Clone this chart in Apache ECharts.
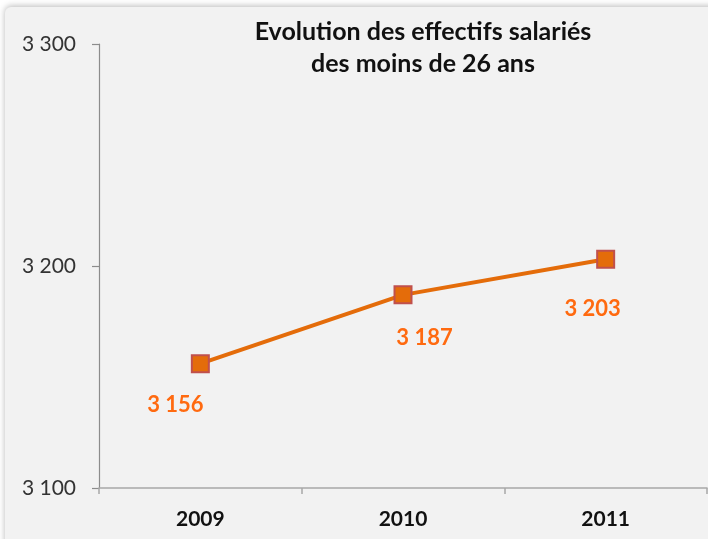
<!DOCTYPE html>
<html>
<head>
<meta charset="utf-8">
<style>
html,body{margin:0;padding:0;background:#ffffff;}
#chart{width:708px;height:539px;}
</style>
<script src="https://cdn.jsdelivr.net/npm/echarts@6/dist/echarts.min.js"></script>
</head>
<body>
<div id="chart"></div>
<script>
var titleText = 'Evolution des effectifs salariés\ndes moins de 26 ans';
var categories = ['2009', '2010', '2011'];
var values = [3156, 3187, 3203];
var yMin = 3100, yMax = 3300, yStep = 100;

var labelOffsets = [[-25, -6], [21.5, -4.5], [-13, 2]];

function fmt(v) {
  return String(Math.round(v)).replace(/\B(?=(\d{3})+(?!\d))/g, ' ');
}

var chart = echarts.init(document.getElementById('chart'), null, {renderer: 'canvas'});
var FONT = 'Lato, "Open Sans", sans-serif';

chart.setOption({
  backgroundColor: '#ffffff',
  animation: false,
  graphic: [{
    type: 'rect',
    z: -100,
    silent: true,
    shape: {x: 5, y: 7, width: 720, height: 560, r: 6},
    style: {fill: '#f2f2f2', shadowBlur: 6, shadowColor: 'rgba(0,0,0,0.28)', shadowOffsetY: -1}
  }],
  title: {
    text: titleText,
    left: 423,
    textAlign: 'center',
    top: 16,
    padding: 0,
    textStyle: {fontFamily: FONT, fontWeight: 'bold', fontSize: 25, color: '#111111', lineHeight: 32}
  },
  grid: {left: 99, right: 1, top: 44, bottom: 51, containLabel: false},
  xAxis: {
    type: 'category',
    data: categories,
    boundaryGap: true,
    axisLine: {show: true, lineStyle: {color: '#a8a8a8', width: 1.5}},
    axisTick: {show: true, length: 6, alignWithLabel: false, lineStyle: {color: '#a8a8a8', width: 1.5}},
    axisLabel: {margin: 21, fontFamily: FONT, fontWeight: 'bold', fontSize: 21, color: '#111111'},
    splitLine: {show: false}
  },
  yAxis: {
    type: 'value',
    min: yMin,
    max: yMax,
    interval: yStep,
    axisLine: {show: true, lineStyle: {color: '#8c8c8c', width: 1.2}},
    axisTick: {show: true, inside: false, length: 7, lineStyle: {color: '#8c8c8c', width: 1.2}},
    axisLabel: {margin: 23, fontFamily: FONT, fontSize: 21, color: '#333333', formatter: fmt},
    splitLine: {show: false}
  },
  series: [{
    type: 'line',
    data: values.map(function (v, i) {
      return {value: v, label: {offset: labelOffsets[i]}};
    }),
    symbol: 'rect',
    symbolSize: 17,
    lineStyle: {color: '#e46c0a', width: 4},
    itemStyle: {color: '#e46c0a', borderColor: '#c0504d', borderWidth: 2},
    label: {
      show: true,
      position: 'bottom',
      distance: 27,
      fontFamily: FONT,
      fontWeight: 'bold',
      fontSize: 22,
      color: '#ff6a10',
      formatter: function (p) { return fmt(p.value); }
    }
  }]
});
</script>
</body>
</html>
